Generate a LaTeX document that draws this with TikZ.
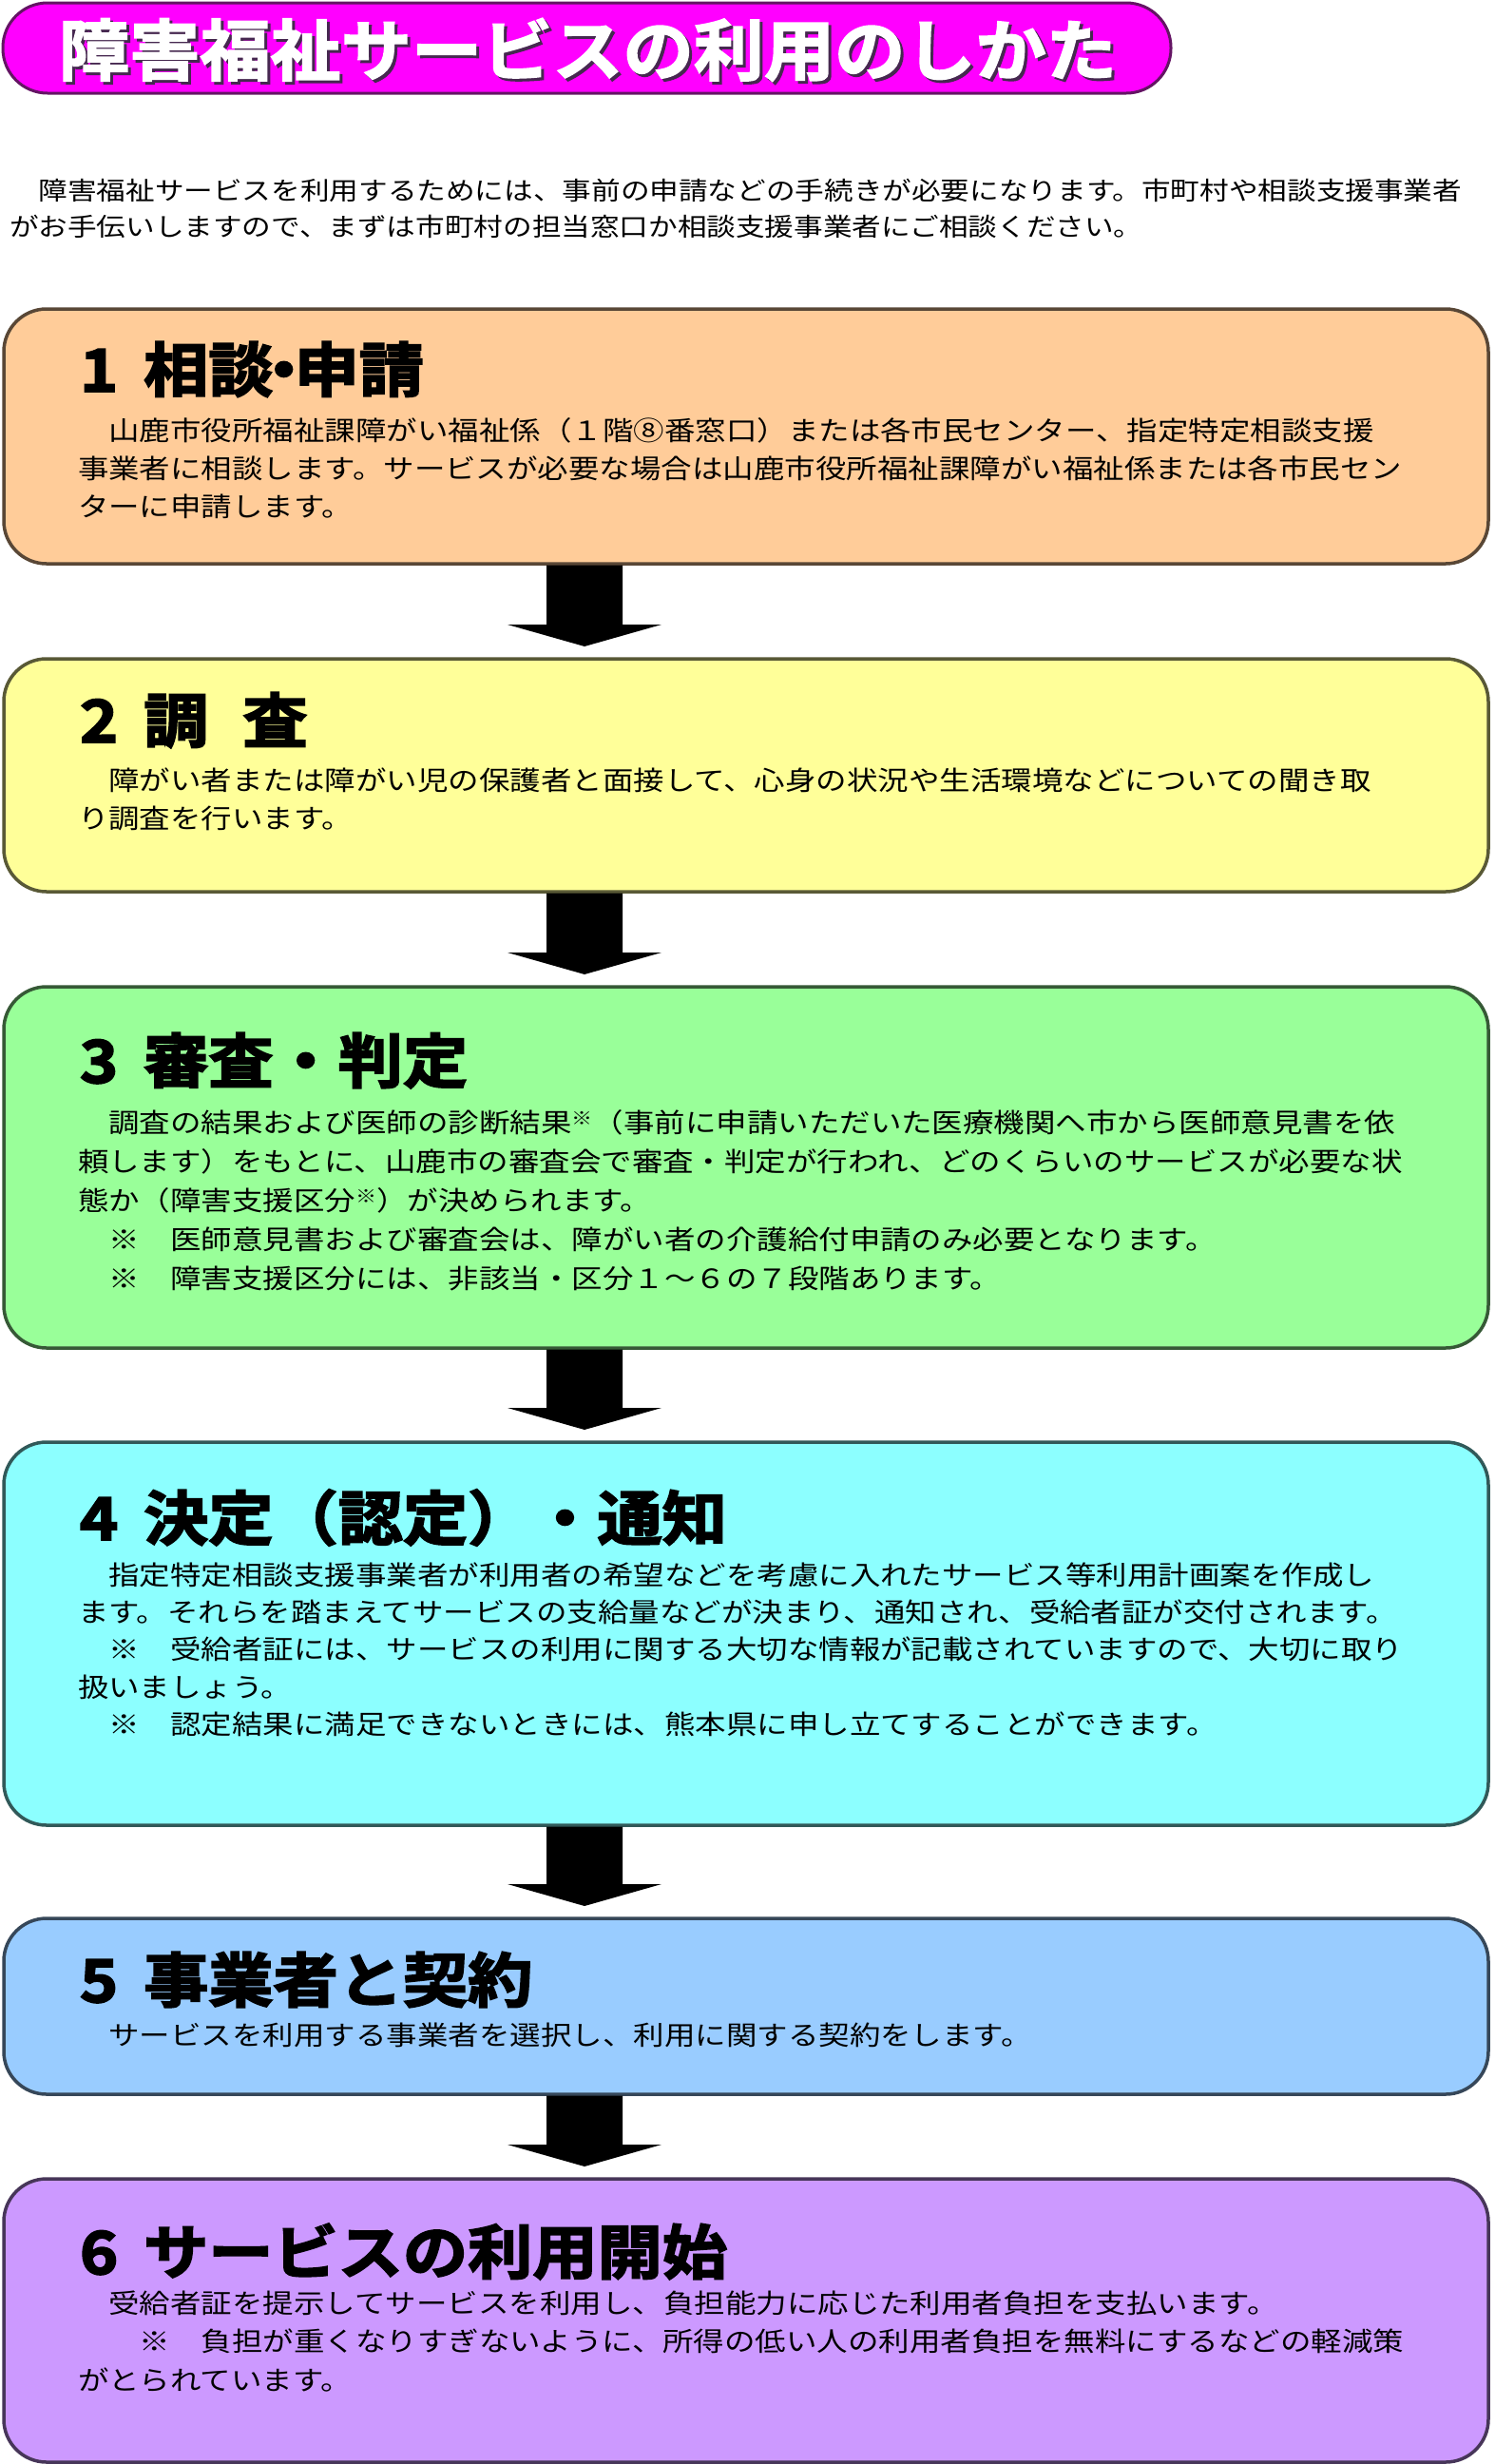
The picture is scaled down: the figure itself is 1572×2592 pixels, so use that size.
\documentclass[tikz,border=0pt]{standalone}
\usepackage{fontspec}
\usetikzlibrary{calc}
\newfontfamily\bodyfont[FakeStretch=1.16]{Noto Sans CJK JP}
\newfontfamily\headfont[FakeStretch=1.1,FakeBold=3]{Noto Sans CJK JP Bold}
\newfontfamily\titlefont[FakeStretch=1.06,FakeBold=2.2]{Noto Sans CJK JP Bold}
\definecolor{pillfill}{RGB}{255,0,255}
\definecolor{pilledge}{RGB}{100,20,100}
\definecolor{titleshade}{RGB}{70,40,80}
\definecolor{c1}{HTML}{FFCC99}
\definecolor{c2}{HTML}{FFFF99}
\definecolor{c3}{HTML}{99FF99}
\definecolor{c4}{HTML}{8CFFFF}
\definecolor{c5}{HTML}{99CCFF}
\definecolor{c6}{HTML}{CC99FF}
\newcommand\supmark{\raisebox{8pt}{\fontsize{19pt}{19pt}\selectfont ※}}
\newcommand\flowarrow[2]{%
  \fill[black] ($(#1.south -| ax)+(-40,1.5)$) -- ($(#1.south -| ax)+(40,1.5)$)
    -- ($(#2.north -| ax)+(40,-36)$) -- ($(#2.north -| ax)+(81,-36)$)
    -- ($(#2.north -| ax)+(0,-13)$) -- ($(#2.north -| ax)+(-81,-36)$)
    -- ($(#2.north -| ax)+(-40,-36)$) -- cycle;}
\begin{document}
\begin{tikzpicture}[x=1pt,y=-1pt,
  every node/.style={inner sep=0pt,outer sep=0pt},
  box/.style={draw=#1!35!black,fill=#1,line width=3.5pt,rounded corners=45pt,minimum width=1562pt},
  pill/.style={draw=pilledge,fill=pillfill,line width=3pt,rounded corners=47pt,minimum width=1229pt,minimum height=95pt},
  titletxt/.style={anchor=base west,font=\titlefont\fontsize{70pt}{70pt}\selectfont},
  head/.style={anchor=base west,font=\headfont\fontsize{62pt}{62pt}\selectfont},
  body/.style={anchor=base west,font=\bodyfont\fontsize{28pt}{28pt}\selectfont},
  intro/.style={anchor=base west,font=\bodyfont\fontsize{26.4pt}{26pt}\selectfont}]
\useasboundingbox[fill=white] (0,0) rectangle (1572,2592);
\coordinate (ax) at (615,0);
% title
\node[pill] (title) at (617.5,50.5) {};
\node[titletxt,text=titleshade] (titleshadow) at (65,82) {障害福祉サービスの利用のしかた};
\node[titletxt,text=white] (titletext) at (62,79) {障害福祉サービスの利用のしかた};
% intro
\node[intro] (in1) at (10,210) {　障害福祉サービスを利用するためには、事前の申請などの手続きが必要になります。市町村や相談支援事業者};
\node[intro] (in2) at (10,248) {がお手伝いしますので、まずは市町村の担当窓口か相談支援事業者にご相談ください。};
% boxes
\node[box=c1,minimum height=268pt] (b1) at (785,459) {};
\node[box=c2,minimum height=245pt] (b2) at (785,815.5) {};
\node[box=c3,minimum height=380pt] (b3) at (785,1228) {};
\node[box=c4,minimum height=403pt] (b4) at (785,1718.5) {};
\node[box=c5,minimum height=185pt] (b5) at (785,2110.5) {};
\node[box=c6,minimum height=298pt] (b6) at (785,2441) {};
% arrows
\flowarrow{b1}{b2}
\flowarrow{b2}{b3}
\flowarrow{b3}{b4}
\flowarrow{b4}{b5}
\flowarrow{b5}{b6}
% box 1
\node[head] (h1) at (84,412) {1\hspace{27pt}相談\makebox[22pt][c]{・}申請};
\node[body] (t1a) at (82,463) {　山鹿市役所福祉課障がい福祉係（１階⑧番窓口）または各市民センター、指定特定相談支援};
\node[body] (t1b) at (82,503) {事業者に相談します。サービスが必要な場合は山鹿市役所福祉課障がい福祉係または各市民セン};
\node[body] (t1c) at (82,543) {ターに申請します。};
% box 2
\node[head] (h2) at (84,781) {2\hspace{27pt}調\hspace{36pt}査};
\node[body] (t2a) at (82,831) {　障がい者または障がい児の保護者と面接して、心身の状況や生活環境などについての聞き取};
\node[body] (t2b) at (82,871) {り調査を行います。};
% box 3
\node[head] (h3) at (84,1139) {3\hspace{27pt}審査・判定};
\node[body] (t3a) at (82,1191) {　調査の結果および医師の診断結果\supmark（事前に申請いただいた医療機関へ市から医師意見書を依};
\node[body] (t3b) at (82,1232) {頼します）をもとに、山鹿市の審査会で審査・判定が行われ、どのくらいのサービスが必要な状};
\node[body] (t3c) at (82,1273) {態か（障害支援区分\supmark）が決められます。};
\node[body] (t3d) at (82,1314) {　※　医師意見書および審査会は、障がい者の介護給付申請のみ必要となります。};
\node[body] (t3e) at (82,1355) {　※　障害支援区分には、非該当・区分１～６の７段階あります。};
% box 4
\node[head] (h4) at (84,1620) {4\hspace{27pt}決定（認定）・通知};
\node[body] (t4a) at (82,1667) {　指定特定相談支援事業者が利用者の希望などを考慮に入れたサービス等利用計画案を作成し};
\node[body] (t4b) at (82,1706) {ます。それらを踏まえてサービスの支給量などが決まり、通知され、受給者証が交付されます。};
\node[body] (t4c) at (82,1745) {　※　受給者証には、サービスの利用に関する大切な情報が記載されていますので、大切に取り};
\node[body] (t4d) at (82,1785) {扱いましょう。};
\node[body] (t4e) at (82,1824) {　※　認定結果に満足できないときには、熊本県に申し立てすることができます。};
% box 5
\node[head] (h5) at (84,2106) {5\hspace{27pt}事業者と契約};
\node[body] (t5a) at (82,2151) {　サービスを利用する事業者を選択し、利用に関する契約をします。};
% box 6
\node[head] (h6) at (84,2392) {6\hspace{27pt}サービスの利用開始};
\node[body] (t6a) at (82,2433) {　受給者証を提示してサービスを利用し、負担能力に応じた利用者負担を支払います。};
\node[body] (t6b) at (82,2473) {　　※　負担が重くなりすぎないように、所得の低い人の利用者負担を無料にするなどの軽減策};
\node[body] (t6c) at (82,2514) {がとられています。};
\end{tikzpicture}
\end{document}
